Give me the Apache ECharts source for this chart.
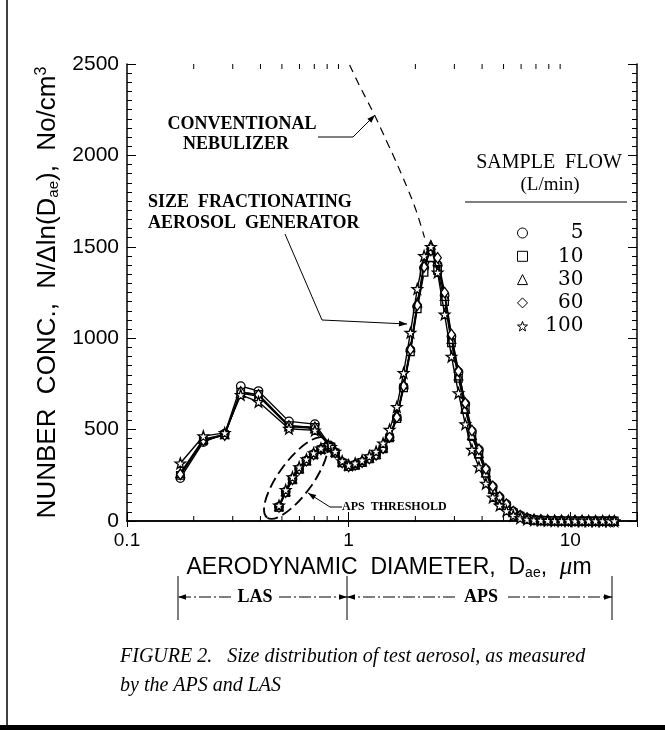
<!DOCTYPE html>
<html><head><meta charset="utf-8">
<script src="https://cdn.jsdelivr.net/npm/echarts@6/dist/echarts.min.js"></script>
<style>html,body{margin:0;padding:0;background:#fff}#c{width:665px;height:730px}</style>
</head><body><div id="c"></div>
<script>
// ---------- data ----------
const flowRates = ['5', '10', '30', '60', '100'];

// LAS (laser aerosol spectrometer) channels
const lasX = [0.174, 0.221, 0.276, 0.326, 0.392, 0.538, 0.704, 0.832];
const las5   = [235, 432, 478, 738, 711, 545, 530, 408];
const las10  = [250, 438, 472, 705, 692, 522, 512, 405];
const las30  = [262, 448, 474, 700, 682, 516, 506, 402];
const las60  = [255, 442, 470, 706, 690, 520, 512, 404];
const las100 = [316, 464, 482, 690, 652, 505, 496, 406];

// APS (aerodynamic particle sizer) channels
const apsX = [0.485, 0.52, 0.558, 0.598, 0.645, 0.695, 0.75, 0.81, 0.87, 0.935, 1.0, 1.07, 1.15, 1.24, 1.33, 1.43, 1.53, 1.65, 1.77, 1.9, 2.04, 2.19, 2.35, 2.52, 2.71, 2.91, 3.13, 3.36, 3.6, 3.87, 4.16, 4.47, 4.8, 5.15, 5.53, 5.94, 6.38, 6.86, 7.37, 7.91, 8.5, 9.13, 9.8, 10.5, 11.3, 12.1, 13.0, 14.0, 15.0, 15.8];
const aps5   = [78, 160, 230, 285, 330, 365, 392, 412, 375, 322, 300, 308, 322, 342, 362, 398, 458, 565, 735, 935, 1175, 1385, 1465, 1400, 1235, 1010, 815, 640, 490, 390, 282, 188, 130, 92, 52, 30, 16, 8, 5, 3, 2, 2, 1, 1, 1, 0, 0, 0, 0, 0];
const aps10  = [75, 155, 225, 282, 328, 362, 390, 410, 372, 318, 297, 305, 320, 340, 360, 395, 455, 560, 728, 925, 1160, 1360, 1440, 1370, 1200, 975, 780, 610, 462, 365, 262, 172, 118, 82, 46, 26, 14, 7, 4, 3, 2, 1, 1, 1, 0, 0, 0, 0, 0, 0];
const aps30  = [80, 162, 232, 288, 332, 367, 394, 414, 377, 323, 302, 310, 325, 345, 366, 402, 465, 575, 748, 950, 1195, 1410, 1510, 1420, 1230, 995, 795, 615, 470, 370, 265, 176, 120, 84, 48, 27, 14, 7, 4, 3, 2, 1, 1, 1, 0, 0, 0, 0, 0, 0];
const aps60  = [77, 158, 228, 284, 330, 364, 392, 412, 374, 320, 299, 307, 322, 342, 362, 398, 460, 568, 738, 938, 1180, 1390, 1480, 1440, 1250, 1020, 820, 645, 495, 392, 285, 190, 132, 92, 52, 30, 16, 8, 5, 3, 2, 2, 1, 1, 1, 0, 0, 0, 0, 0];
const aps100 = [85, 170, 240, 295, 338, 372, 398, 416, 380, 328, 306, 316, 332, 355, 380, 425, 500, 625, 810, 1030, 1270, 1450, 1500, 1360, 1130, 900, 700, 530, 390, 295, 205, 130, 85, 55, 30, 16, 9, 5, 3, 2, 1, 1, 1, 0, 0, 0, 0, 0, 0, 0];

// conventional nebulizer (dashed)
const convX = [1.01, 1.10, 1.20, 1.31, 1.40, 1.50, 1.61, 1.72, 1.85, 1.98, 2.09, 2.20];
const convY = [2495, 2400, 2310, 2220, 2145, 2065, 1985, 1905, 1815, 1725, 1640, 1550];

const xTickLabels = ['0.1', '1', '10'];
const xMinorTicks = [0.2, 0.3, 0.4, 0.5, 0.6, 0.7, 0.8, 0.9, 2, 3, 4, 5, 6, 7, 8, 9];

const lasY = [las5, las10, las30, las60, las100];
const apsY = [aps5, aps10, aps30, aps60, aps100];

// ---------- styles ----------
const SANS = 'Liberation Sans';
const SERIF = 'Liberation Serif';
const starPath = 'path://M0,-10L2.35,-3.24L9.51,-3.09L3.8,1.24L5.88,8.09L0,4L-5.88,8.09L-3.8,1.24L-9.51,-3.09L-2.35,-3.24Z';
const symbols = ['circle', 'rect', 'triangle', 'diamond', starPath];
const symSizes = [8.5, 7.5, 8.5, [7.5, 10.5], 10.5];

const series = [];
flowRates.forEach((f, i) => {
  [[lasX, lasY[i]], [apsX, apsY[i]]].forEach(([xs, ys]) => {
    series.push({
      type: 'line', name: f, xAxisIndex: 0, yAxisIndex: 0,
      data: xs.map((x, j) => [x, ys[j]]),
      symbol: symbols[i], symbolSize: symSizes[i], showAllSymbol: true,
      itemStyle: { color: '#fff', borderColor: '#000', borderWidth: 1.3 },
      lineStyle: { color: '#000', width: 1.4 },
      emphasis: { disabled: true }, z: 3 + i
    });
  });
});
series.push({
  type: 'line', name: 'conv', data: convX.map((x, j) => [x, convY[j]]),
  symbol: 'none', smooth: 0.4,
  lineStyle: { color: '#000', width: 1.2, type: [8, 6] }, emphasis: { disabled: true }, z: 2
});
series.push({
  type: 'custom', name: 'minorTicks', data: xMinorTicks.map(v => [v, 0]),
  encode: { x: 0, y: 1 }, silent: true, clip: false, z: 1,
  renderItem: function (params, api) {
    const x = api.coord([api.value(0), 0])[0];
    const cs = params.coordSys;
    const st = { stroke: '#000', lineWidth: 1 };
    return { type: 'group', children: [
      { type: 'line', shape: { x1: x, y1: cs.y + cs.height, x2: x, y2: cs.y + cs.height - 5 }, style: st },
      { type: 'line', shape: { x1: x, y1: cs.y, x2: x, y2: cs.y + 5 }, style: st }
    ] };
  }
});

function arrowHead(x, y, fx, fy, len, w) {
  len = len || 8; w = w || 2.8;
  const a = Math.atan2(y - fy, x - fx);
  const bx = x - len * Math.cos(a), by = y - len * Math.sin(a);
  const px = -Math.sin(a) * w, py = Math.cos(a) * w;
  return { type: 'polygon', shape: { points: [[x, y], [bx + px, by + py], [bx - px, by - py]] }, style: { fill: '#000' }, z: 10 };
}
function leader(pts, lw, dash) {
  const n = pts.length;
  return [
    { type: 'polyline', shape: { points: pts }, style: { stroke: '#000', lineWidth: lw || 1, fill: null, lineDash: dash || null }, z: 10 },
    arrowHead(pts[n - 1][0], pts[n - 1][1], pts[n - 2][0], pts[n - 2][1])
  ];
}
function txt(t, x, y, size, opts) {
  opts = opts || {};
  return { type: 'text', x: x, y: y, z: 10, style: {
    text: t, fill: '#000', fontSize: size, fontFamily: opts.family || SERIF,
    fontWeight: opts.weight || 'normal', fontStyle: opts.style || 'normal',
    align: opts.align || 'center', verticalAlign: 'middle',
    textAlign: opts.align || 'center', textVerticalAlign: 'middle'
  } };
}

const bDash = [12, 3, 2, 3];
const graphics = [
  { type: 'line', shape: { x1: 7, y1: 0, x2: 7, y2: 730 }, style: { stroke: '#000', lineWidth: 1.5 } },
  { type: 'rect', shape: { x: 0, y: 725, width: 665, height: 5 }, style: { fill: '#000' } },
  // annotations
  txt('CONVENTIONAL', 242, 124, 18, { weight: 'bold' }),
  txt('NEBULIZER', 236, 144, 18, { weight: 'bold' }),
  ...leader([[318, 137], [353, 137], [375, 115]]),
  txt('SIZE  FRACTIONATING', 148, 202, 18, { weight: 'bold', align: 'left' }),
  txt('AEROSOL  GENERATOR', 148, 223, 18, { weight: 'bold', align: 'left' }),
  ...leader([[285, 234], [322, 320], [407, 324]]),
  txt('APS  THRESHOLD', 342, 507, 12, { weight: 'bold', align: 'left' }),
  ...leader([[342, 507], [330, 507], [308, 493]]),
  { type: 'ellipse', x: 296, y: 478, rotation: 0.94, shape: { cx: 0, cy: 0, rx: 49, ry: 17 },
    style: { stroke: '#000', lineWidth: 1.9, fill: null, lineDash: [11, 5] }, z: 10 },
  // legend header
  txt('SAMPLE  FLOW', 549, 163, 20),
  txt('(L/min)', 550, 185, 19),
  { type: 'line', shape: { x1: 465, y1: 202, x2: 627, y2: 202 }, style: { stroke: '#000', lineWidth: 1 } },
  // LAS / APS brackets
  { type: 'line', shape: { x1: 178, y1: 576, x2: 178, y2: 620 }, style: { stroke: '#000', lineWidth: 1 } },
  { type: 'line', shape: { x1: 347, y1: 576, x2: 347, y2: 620 }, style: { stroke: '#000', lineWidth: 1 } },
  { type: 'line', shape: { x1: 612, y1: 576, x2: 612, y2: 620 }, style: { stroke: '#000', lineWidth: 1 } },
  ...leader([[231, 597], [178, 597]], 1, bDash),
  ...leader([[279, 597], [347, 597]], 1, bDash),
  ...leader([[455, 597], [347, 597]], 1, bDash),
  ...leader([[508, 597], [612, 597]], 1, bDash),
  txt('LAS', 255, 597, 18, { weight: 'bold' }),
  txt('APS', 481, 597, 18, { weight: 'bold' }),
  // caption
  txt('FIGURE 2.   Size distribution of test aerosol, as measured', 120, 657, 20, { style: 'italic', align: 'left' }),
  txt('by the APS and LAS', 120, 686, 20, { style: 'italic', align: 'left' })
];

const xLabelFmt = function (v) {
  for (const l of xTickLabels) { if (Math.abs(Math.log10(v) - Math.log10(+l)) < 1e-6) return l; }
  return '';
};
const axisLineStyle = { color: '#000', width: 1.5 };

const option = {
  animation: false,
  backgroundColor: '#fff',
  grid: { left: 127, right: 28, top: 64, bottom: 209, containLabel: false },
  legend: {
    data: flowRates.map((f, i) => ({ name: f, icon: symbols[i] })),
    orient: 'vertical', left: 512, top: 218, itemWidth: 10, itemHeight: 10, itemGap: 3.3,
    selectedMode: false,
    itemStyle: { color: '#fff', borderColor: '#000', borderWidth: 1 },
    formatter: n => '{n|' + n + '}',
    textStyle: { fontFamily: 'DejaVu Serif', fontSize: 20, color: '#000', lineHeight: 20,
      rich: { n: { width: 51, align: 'right', fontFamily: 'DejaVu Serif', fontSize: 20, lineHeight: 20 } } }
  },
  xAxis: [
    { type: 'log', logBase: 10, min: 0.1, max: 20, position: 'bottom',
      axisLine: { show: true, lineStyle: axisLineStyle },
      axisTick: { show: true, inside: true, length: 9, lineStyle: { color: '#000', width: 1 } },
      axisLabel: { formatter: xLabelFmt, fontFamily: SANS, fontSize: 19, color: '#000', margin: 10 },
      splitLine: { show: false },
      name: 'AERODYNAMIC  DIAMETER,  D{s|ae},  {mu|μ}m', nameLocation: 'middle', nameGap: 25,
      nameTextStyle: { fontFamily: SANS, fontSize: 23, color: '#000', padding: [0, 0, 0, 14], lineHeight: 25,
        rich: { s: { fontFamily: SANS, fontSize: 14, verticalAlign: 'bottom', lineHeight: 14 },
                mu: { fontFamily: SERIF, fontStyle: 'italic', fontSize: 25, lineHeight: 25 } } }
    },
    { type: 'log', logBase: 10, min: 0.1, max: 20, position: 'top',
      axisLine: { show: true, lineStyle: axisLineStyle },
      axisTick: { show: true, inside: true, length: 6, lineStyle: { color: '#000', width: 1 } },
      axisLabel: { show: false }, splitLine: { show: false } }
  ],
  yAxis: [
    { type: 'value', min: 0, max: 2500, interval: 500, position: 'left',
      axisLine: { show: true, lineStyle: axisLineStyle },
      axisTick: { show: true, inside: true, length: 9, lineStyle: { color: '#000', width: 1 } },
      minorTick: { show: true, splitNumber: 10, length: 5, lineStyle: { color: '#000', width: 1 } },
      axisLabel: { fontFamily: SANS, fontSize: 21, color: '#000', margin: 8, formatter: v => String(v) },
      splitLine: { show: false }, minorSplitLine: { show: false },
      name: 'NUNBER  CONC.,  N/Δln(D{s|ae}),  No/cm{p|3}', nameLocation: 'middle', nameRotate: 90, nameGap: 62,
      nameTextStyle: { fontFamily: SANS, fontSize: 26, color: '#000', lineHeight: 28,
        rich: { s: { fontFamily: SANS, fontSize: 15, verticalAlign: 'bottom', lineHeight: 15 },
                p: { fontFamily: SANS, fontSize: 16, verticalAlign: 'top', lineHeight: 16 } } }
    },
    { type: 'value', min: 0, max: 2500, interval: 500, position: 'right',
      axisLine: { show: true, lineStyle: axisLineStyle },
      axisTick: { show: true, inside: true, length: 9, lineStyle: { color: '#000', width: 1 } },
      minorTick: { show: true, splitNumber: 10, length: 5, lineStyle: { color: '#000', width: 1 } },
      axisLabel: { show: false }, splitLine: { show: false }, minorSplitLine: { show: false } }
  ],
  series: series,
  graphic: { elements: graphics }
};

const chart = echarts.init(document.getElementById('c'), null, { renderer: 'canvas' });
chart.setOption(option);
</script>
</body></html>
